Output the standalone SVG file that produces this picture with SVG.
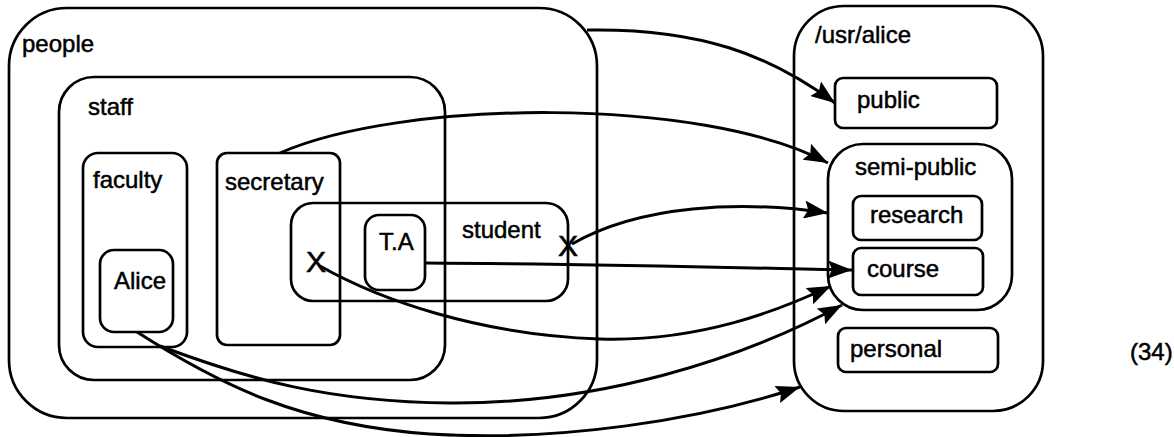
<svg xmlns="http://www.w3.org/2000/svg" width="1174" height="437" viewBox="0 0 1174 437">
<style>
.box{fill:none;stroke:#000;stroke-width:2.7}
.lbl{font-family:"Liberation Sans",Arial,sans-serif;font-size:24px;fill:#000;stroke:#000;stroke-width:0.5}
.xm{font-family:"Liberation Sans",Arial,sans-serif;font-size:30px;fill:#000;stroke:#000;stroke-width:0.6}
.con{fill:none;stroke:#000;stroke-width:3}
</style>
<defs>
<marker id="ah" markerUnits="userSpaceOnUse" markerWidth="25" markerHeight="18" refX="24" refY="9" orient="auto">
<path d="M0,0 L24,9 L0,18 L4,9 z" fill="#000"/>
</marker>
</defs>
<rect width="1174" height="437" fill="#fff"/>
<g id="people"><rect class="box" x="9" y="8" width="588" height="410" rx="58"/><text class="lbl" x="22" y="52">people</text></g>
<g id="staff"><rect class="box" x="59" y="77" width="386" height="303" rx="35"/><text class="lbl" x="88" y="115">staff</text></g>
<g id="faculty"><rect class="box" x="83" y="153" width="104" height="194" rx="15"/><text class="lbl" x="93" y="188">faculty</text></g>
<g id="alice"><rect class="box" x="100" y="250" width="73" height="82" rx="14"/><text class="lbl" x="114" y="289">Alice</text></g>
<g id="secretary"><rect class="box" x="217" y="153" width="123" height="192" rx="10"/><text class="lbl" x="225" y="190">secretary</text></g>
<g id="student"><rect class="box" x="291" y="203" width="277" height="98" rx="22"/><text class="lbl" x="462" y="238">student</text></g>
<g id="ta"><rect class="box" x="365" y="215" width="60" height="75" rx="14"/><text class="lbl" x="379" y="250">T.A</text></g>
<g id="usr-alice"><rect class="box" x="794" y="6" width="249" height="405" rx="50"/><text class="lbl" x="815" y="43">/usr/alice</text></g>
<g id="public"><rect class="box" x="835" y="78" width="162" height="50" rx="8"/><text class="lbl" x="857" y="108">public</text></g>
<g id="semi-public"><rect class="box" x="828" y="144" width="184" height="166" rx="35"/><text class="lbl" x="855" y="175">semi-public</text></g>
<g id="research"><rect class="box" x="853" y="196" width="129" height="44" rx="8"/><text class="lbl" x="870" y="223">research</text></g>
<g id="course"><rect class="box" x="853" y="248" width="130" height="47" rx="8"/><text class="lbl" x="867" y="277">course</text></g>
<g id="personal"><rect class="box" x="838" y="328" width="160" height="44" rx="8"/><text class="lbl" x="850" y="357">personal</text></g>
<g id="eq-label"><text class="lbl" x="1130" y="360">(34)</text></g>
<g id="connectors">
<path class="con" d="M587 30 C700 28 770 55 835 103" marker-end="url(#ah)"/>
<path class="con" d="M280 153 C400 100 700 95 828 163" marker-end="url(#ah)"/>
<path class="con" d="M572 244 C640 205 740 200 828 213" marker-end="url(#ah)"/>
<text class="xm" x="558" y="256" font-size="24">X</text>
<path class="con" d="M425 263 C600 264 750 268 852 270" marker-end="url(#ah)"/>
<text class="xm" x="306" y="272">X</text>
<path class="con" d="M320 266 C380 300 480 335 600 339 C700 342 780 310 831 286" marker-end="url(#ah)"/>
<path class="con" d="M160 346 C250 380 330 402 450 403 C600 404 740 360 842 305" marker-end="url(#ah)"/>
<path class="con" d="M137 332 C220 385 300 425 430 434 C560 442 700 420 800 387" marker-end="url(#ah)"/>
</g>
</svg>
